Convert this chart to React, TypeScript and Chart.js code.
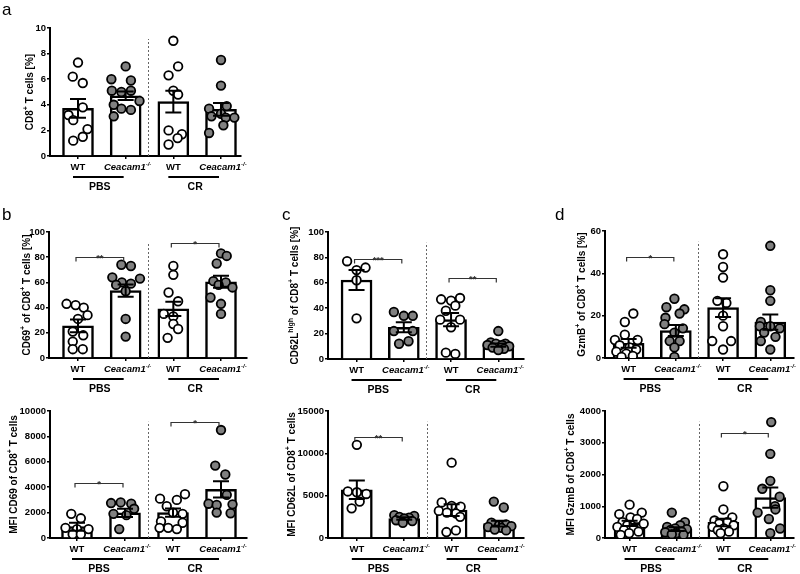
import React, { useEffect, useRef } from 'react';
import { Chart, registerables } from 'chart.js';
Chart.register(...registerables);

const FONT = '"Liberation Sans", Arial, Helvetica, sans-serif';
const GRAY = '#808080';

// ---------- DATA ----------
const groupNames = ['WT', 'Ceacam1', 'WT', 'Ceacam1'];
const treatments = ['PBS', 'CR'];

// panel a: CD8+ T cells [%]
const aMean = [3.72, 4.7, 4.25, 3.65];
const aSem = [0.73, 0.33, 0.85, 0.5];
const aPts = [
  [7.3, 6.2, 5.7, 3.8, 3.2, 2.8, 2.1, 1.5, 1.2],
  [7.0, 6.0, 5.9, 5.1, 5.0, 5.1, 4.3, 4.0, 3.7, 3.6, 3.1],
  [9.0, 7.0, 6.3, 5.1, 4.8, 2.0, 1.7, 1.4, 0.9],
  [7.5, 5.5, 3.9, 3.7, 3.3, 3.1, 3.0, 3.0, 2.4, 1.8],
];
const aJit = [
  [0, -0.11, 0.1, 0.1, -0.2, -0.1, 0.2, 0.1, -0.1],
  [0, -0.3, 0.11, -0.29, -0.09, 0.11, 0.29, -0.25, -0.09, 0.11, -0.25],
  [0, 0.1, -0.1, 0, 0.1, -0.1, 0.18, 0.09, -0.1],
  [0, 0, 0.12, -0.25, 0, -0.2, 0.1, 0.28, 0.05, -0.25],
];
const aSig: [number, number, number, string][] = [];

// panel b top: CD69+ of CD8+ T cells [%]
const bTopMean = [25.5, 53.5, 39, 60.5];
const bTopSem = [5, 4.8, 5.6, 4.8];
const bTopPts = [
  [43, 42, 40, 34, 31, 21, 18, 13, 7, 7],
  [74, 73, 64, 63, 60, 59, 58, 53, 31, 17],
  [73, 66, 52, 45, 35, 33, 27, 23, 16],
  [83, 81, 75, 61, 60, 58, 56, 48, 43, 35],
];
const bTopJit = [
  [-0.24, -0.05, 0.12, 0.2, 0, -0.11, 0.11, -0.11, -0.11, 0.1],
  [-0.09, 0.11, -0.28, 0.3, -0.08, 0.11, -0.2, 0, 0, 0],
  [0, 0, -0.1, 0.1, -0.2, 0, 0, 0.1, -0.12],
  [0, 0.12, -0.09, -0.16, 0.1, -0.05, 0.24, -0.22, 0, 0],
];
const bTopSig: [number, number, number, string][] = [[1, 2, 80, '**'], [3, 4, 91, '*']];

// panel b bottom: MFI CD69 of CD8+ T cells
const bBotMean = [890, 1980, 2000, 3830];
const bBotSem = [310, 330, 330, 640];
const bBotPts = [
  [1900, 1550, 800, 700, 700, 300, 300],
  [2750, 2800, 2700, 2300, 1900, 1800, 700],
  [3450, 3100, 3000, 2500, 2000, 1900, 1300, 1200, 800, 800, 700],
  [8500, 5700, 5000, 3400, 2700, 2650, 2600, 2000, 1950],
];
const bBotJit = [
  [-0.12, 0.08, -0.24, 0, 0.24, -0.09, 0.08],
  [-0.29, -0.09, 0.13, 0.19, -0.24, 0.03, -0.12],
  [0.25, -0.27, 0.08, -0.13, 0, 0.2, -0.25, 0.2, -0.28, -0.1, 0.08],
  [0, -0.12, 0.09, 0.12, -0.26, 0.24, -0.09, -0.09, 0.2],
];
const bBotSig: [number, number, number, string][] = [[1, 2, 4350, '*'], [3, 4, 9150, '*']];

// panel c top: CD62L high of CD8+ T cells [%]
const cTopMean = [62.2, 25, 31, 11];
const cTopSem = [7.9, 4, 5.2, 1.3];
const cTopPts = [
  [77, 72, 70, 62, 32],
  [37, 34, 34, 22, 22, 14, 12],
  [48, 47, 46, 42, 38, 31, 31, 25, 5, 4],
  [22, 13, 12, 12, 11, 11, 10, 9, 8, 7],
];
const cTopJit = [
  [-0.2, 0.19, 0, 0, 0],
  [-0.21, 0, 0.19, -0.21, 0.19, 0.1, -0.1],
  [0.19, -0.21, 0, 0.09, -0.11, -0.23, 0.19, 0, -0.11, 0.09],
  [0, -0.16, 0.15, -0.05, 0.08, -0.23, 0.23, -0.12, 0.12, 0],
];
const cTopSig: [number, number, number, string][] = [[1, 2, 79, '***'], [3, 4, 64, '**']];

// panel c bottom: MFI CD62L of CD8+ T cells
const cBotMean = [5700, 2300, 3300, 1700];
const cBotSem = [1100, 150, 700, 350];
const cBotPts = [
  [11000, 5500, 5400, 5200, 4300, 3500],
  [2700, 2600, 2500, 2400, 2300, 2100, 2000, 1800],
  [8900, 4200, 3800, 3700, 3200, 3000, 2900, 2500, 900, 700],
  [4300, 3600, 1800, 1600, 1500, 1400, 1300, 1200, 1000, 900],
];
const cBotJit = [
  [0, -0.19, 0, 0.2, 0.06, -0.11],
  [-0.21, 0.21, -0.1, 0.1, 0, -0.17, 0.17, -0.03],
  [0, -0.21, 0, 0.19, -0.27, -0.1, 0.09, 0.18, 0.09, -0.11],
  [-0.11, 0.1, -0.16, 0.15, 0, 0.26, -0.23, 0.05, -0.09, 0.15],
];
const cBotSig: [number, number, number, string][] = [[1, 2, 11900, '**']];

// panel d top: GzmB+ of CD8+ T cells [%]
const dTopMean = [6.9, 13, 23.8, 17];
const dTopSem = [2.1, 2.6, 4.4, 3.6];
const dTopPts = [
  [21, 17, 11, 8.5, 8.5, 6, 5, 4, 3, 2, 1, 0.5],
  [28, 24, 23, 21, 19, 16, 14, 12, 8, 8, 5, 0.5],
  [49, 43, 38, 27, 26, 20, 15, 8, 8, 4],
  [53, 32, 27, 17, 15, 15, 14, 12, 10, 8, 4],
];
const dTopJit = [
  [0.1, -0.08, -0.08, -0.29, 0.19, -0.19, 0.02, 0.16, -0.26, -0.05, 0.09, -0.15],
  [-0.03, -0.2, 0.18, 0.08, -0.22, -0.24, 0.15, -0.03, -0.13, 0.08, -0.03, -0.03],
  [0, 0, 0, -0.12, 0.07, 0, 0, -0.23, 0.17, 0],
  [0, 0, 0, -0.2, -0.22, 0, 0.2, -0.13, 0.11, -0.2, 0],
];
const dTopSig: [number, number, number, string][] = [[1, 2, 47.6, '*']];

// panel d bottom: MFI GzmB of CD8+ T cells
const dBotMean = [460, 280, 490, 1270];
const dBotSem = [80, 60, 120, 320];
const dBotPts = [
  [1050, 800, 750, 650, 600, 500, 450, 400, 350, 300, 250, 200, 150, 100],
  [800, 500, 400, 350, 300, 280, 250, 200, 180, 150, 120, 100],
  [1630, 900, 650, 550, 500, 450, 400, 350, 300, 250, 200, 150],
  [3650, 2650, 1800, 1550, 1300, 1000, 900, 800, 600, 300, 150],
];
const dBotJit = [
  [0, 0.26, -0.22, 0.02, 0.16, -0.15, 0.3, -0.05, -0.26, 0.09, -0.12, 0.19, -0.01, -0.19],
  [-0.1, 0.18, 0.08, -0.2, -0.03, 0.22, -0.13, 0.11, -0.24, 0, -0.1, 0.15],
  [0, 0, 0.19, -0.19, 0.08, -0.09, 0.22, -0.23, 0.01, -0.12, 0.12, -0.06],
  [0.02, 0, 0, -0.17, 0.2, 0.1, 0.11, -0.27, -0.03, 0.21, 0],
];
const dBotSig: [number, number, number, string][] = [[3, 4, 3320, '*']];

// ---------- RICH TEXT ----------
type Seg = { t: string; sup?: boolean; it?: boolean };
const segFont = (s: Seg, size: number) =>
  `${s.it ? 'italic ' : ''}bold ${s.sup ? Math.round(size * 0.68) : size}px ${FONT}`;
function richWidth(ctx: CanvasRenderingContext2D, segs: Seg[], size: number) {
  let w = 0;
  for (const s of segs) { ctx.font = segFont(s, size); w += ctx.measureText(s.t).width; }
  return w;
}
function drawRich(ctx: CanvasRenderingContext2D, segs: Seg[], cx: number, cy: number, size: number, rotate = false) {
  ctx.save();
  ctx.translate(cx, cy);
  if (rotate) ctx.rotate(-Math.PI / 2);
  ctx.fillStyle = '#000';
  ctx.textAlign = 'left';
  ctx.textBaseline = 'alphabetic';
  let x = -richWidth(ctx, segs, size) / 2;
  const base = size * 0.36;
  for (const s of segs) {
    ctx.font = segFont(s, size);
    ctx.fillText(s.t, x, s.sup ? base - size * 0.42 : base);
    x += ctx.measureText(s.t).width;
  }
  ctx.restore();
}

const ceacamLabel: Seg[] = [{ t: 'Ceacam1', it: true }, { t: '-/-', it: true, sup: true }];

type PanelCfg = {
  letter: string; letterPos: [number, number];
  box: [number, number, number, number]; yw: number; padTop: number; xh: number;
  c1: number; c4: number; xEnd: number; yMax: number; step: number;
  title: Seg[]; titleOff: number;
  mean: number[]; sem: number[]; pts: number[][]; jit: number[][];
  sig: [number, number, number, string][];
};

const panels: PanelCfg[] = [
  {
    letter: 'a', letterPos: [2, 1], box: [0, 0, 250, 195], yw: 50, padTop: 28, xh: 39,
    c1: 78, c4: 221, xEnd: 241, yMax: 10, step: 2,
    title: [{ t: 'CD8' }, { t: '+', sup: true }, { t: ' T cells [%]' }], titleOff: -21,
    mean: aMean, sem: aSem, pts: aPts, jit: aJit, sig: aSig,
  },
  {
    letter: 'b', letterPos: [2, 206], box: [0, 200, 255, 196], yw: 49, padTop: 32, xh: 38,
    c1: 78, c4: 221, xEnd: 247, yMax: 100, step: 20,
    title: [{ t: 'CD69' }, { t: '+', sup: true }, { t: ' of CD8' }, { t: '+', sup: true }, { t: ' T cells [%]' }], titleOff: -23,
    mean: bTopMean, sem: bTopSem, pts: bTopPts, jit: bTopJit, sig: bTopSig,
  },
  {
    letter: '', letterPos: [0, 0], box: [0, 398, 255, 176], yw: 50, padTop: 13, xh: 36,
    c1: 77, c4: 221, xEnd: 247, yMax: 10000, step: 2000,
    title: [{ t: 'MFI CD69 of CD8' }, { t: '+', sup: true }, { t: ' T cells' }], titleOff: -37,
    mean: bBotMean, sem: bBotSem, pts: bBotPts, jit: bBotJit, sig: bBotSig,
  },
  {
    letter: 'c', letterPos: [282, 206], box: [258, 200, 272, 196], yw: 70, padTop: 32, xh: 37,
    c1: 357, c4: 501, xEnd: 527, yMax: 100, step: 20,
    title: [{ t: 'CD62L' }, { t: 'high', sup: true }, { t: ' of CD8' }, { t: '+', sup: true }, { t: ' T cells [%]' }], titleOff: -34,
    mean: cTopMean, sem: cTopSem, pts: cTopPts, jit: cTopJit, sig: cTopSig,
  },
  {
    letter: '', letterPos: [0, 0], box: [258, 398, 272, 176], yw: 70, padTop: 13, xh: 36,
    c1: 357, c4: 500, xEnd: 525, yMax: 15000, step: 5000,
    title: [{ t: 'MFI CD62L of CD8' }, { t: '+', sup: true }, { t: ' T cells' }], titleOff: -37,
    mean: cBotMean, sem: cBotSem, pts: cBotPts, jit: cBotJit, sig: cBotSig,
  },
  {
    letter: 'd', letterPos: [555, 206], box: [535, 200, 265, 196], yw: 70, padTop: 31, xh: 38,
    c1: 629, c4: 773, xEnd: 797, yMax: 60, step: 20,
    title: [{ t: 'GzmB' }, { t: '+', sup: true }, { t: ' of CD8' }, { t: '+', sup: true }, { t: ' T cells [%]' }], titleOff: -24,
    mean: dTopMean, sem: dTopSem, pts: dTopPts, jit: dTopJit, sig: dTopSig,
  },
  {
    letter: '', letterPos: [0, 0], box: [535, 398, 265, 176], yw: 70, padTop: 13, xh: 36,
    c1: 630, c4: 773, xEnd: 797, yMax: 4000, step: 1000,
    title: [{ t: 'MFI GzmB of CD8' }, { t: '+', sup: true }, { t: ' T cells' }], titleOff: -35,
    mean: dBotMean, sem: dBotSem, pts: dBotPts, jit: dBotJit, sig: dBotSig,
  },
];

function makeOverlay(p: PanelCfg) {
  return {
    id: 'overlay',
    beforeDatasetsDraw(chart: any) {
      const { ctx, scales: { x, y } } = chart;
      ctx.save();
      ctx.strokeStyle = '#666';
      ctx.lineWidth = 1;
      ctx.setLineDash([2, 2]);
      const sx = Math.round(x.getPixelForValue(2.47)) + 0.5;
      ctx.beginPath();
      ctx.moveTo(sx, y.getPixelForValue(0));
      ctx.lineTo(sx, y.getPixelForValue(p.yMax * 0.915));
      ctx.stroke();
      ctx.restore();
    },
    afterDatasetsDraw(chart: any) {
      const { ctx, scales: { x, y } } = chart;
      ctx.save();
      ctx.strokeStyle = '#000';
      ctx.lineWidth = 2;
      p.mean.forEach((m, i) => {
        const cx = x.getPixelForValue(i + 1);
        const t = y.getPixelForValue(m + p.sem[i]);
        const b = y.getPixelForValue(Math.max(0, m - p.sem[i]));
        ctx.beginPath();
        ctx.moveTo(cx, t); ctx.lineTo(cx, b);
        ctx.moveTo(cx - 8, t); ctx.lineTo(cx + 8, t);
        ctx.moveTo(cx - 8, b); ctx.lineTo(cx + 8, b);
        ctx.stroke();
      });
      ctx.lineWidth = 1.2;
      ctx.strokeStyle = '#333';
      p.sig.forEach(([i1, i2, v, label]) => {
        const x1 = x.getPixelForValue(i1) - 2;
        const x2 = x.getPixelForValue(i2) - 2;
        const yy = Math.round(y.getPixelForValue(v)) + 0.5;
        ctx.beginPath();
        ctx.moveTo(x1, yy + 4); ctx.lineTo(x1, yy); ctx.lineTo(x2, yy); ctx.lineTo(x2, yy + 4);
        ctx.stroke();
        ctx.fillStyle = '#333';
        ctx.font = `bold 9.5px ${FONT}`;
        ctx.textAlign = 'center';
        ctx.textBaseline = 'alphabetic';
        ctx.fillText(label, (x1 + x2) / 2, yy + 3);
      });
      ctx.restore();
    },
    afterDraw(chart: any) {
      const { ctx, chartArea, scales: { x } } = chart;
      const bottom = chartArea.bottom;
      for (let i = 0; i < 4; i++) {
        const cx = x.getPixelForValue(i + 1);
        const segs: Seg[] = groupNames[i] === 'WT' ? [{ t: 'WT' }] : ceacamLabel;
        drawRich(ctx, segs, cx + (i % 2 === 1 ? 2 : 0), bottom + 11, 9.5);
      }
      ctx.save();
      ctx.strokeStyle = '#000';
      ctx.lineWidth = 2;
      treatments.forEach((t, g) => {
        const xa = x.getPixelForValue(g * 2 + 1);
        const xb = x.getPixelForValue(g * 2 + 2);
        ctx.beginPath();
        ctx.moveTo(xa - 5, bottom + 21);
        ctx.lineTo(xb - 2, bottom + 21);
        ctx.stroke();
        drawRich(ctx, [{ t }], (xa + xb) / 2 - 2, bottom + 30, 10.5);
      });
      ctx.restore();
      drawRich(ctx, p.title, chartArea.left + p.titleOff, (chartArea.top + chartArea.bottom) / 2, 10, true);
    },
  };
}

function Panel({ p }: { p: PanelCfg }) {
  const ref = useRef<HTMLCanvasElement>(null);
  useEffect(() => {
    const plotLeft = p.box[0] + p.yw;
    const sp = (p.c4 - p.c1) / 3;
    const xMin = 1 - (p.c1 - plotLeft) / sp;
    const xMax = 4 + (p.xEnd - p.c4) / sp;
    const padRight = p.box[0] + p.box[2] - p.xEnd;
    const wt: { x: number; y: number }[] = [];
    const ko: { x: number; y: number }[] = [];
    p.pts.forEach((arr, g) => {
      arr.forEach((v, k) => {
        const pt = { x: g + 1 + p.jit[g][k], y: v };
        (g % 2 === 0 ? wt : ko).push(pt);
      });
    });
    const chart = new Chart(ref.current as HTMLCanvasElement, {
      type: 'bar',
      data: {
        datasets: [
          {
            type: 'scatter', data: wt, backgroundColor: '#fff', borderColor: '#000',
            borderWidth: 1.8, pointRadius: 4.3, order: 0,
          } as any,
          {
            type: 'scatter', data: ko, backgroundColor: GRAY, borderColor: '#000',
            borderWidth: 1.8, pointRadius: 4.3, order: 0,
          } as any,
          {
            type: 'bar',
            data: p.mean.map((m, i) => ({ x: i + 1, y: m })),
            backgroundColor: '#fff', borderColor: '#000', borderWidth: 2.5,
            barThickness: 31, order: 1,
          } as any,
        ],
      },
      options: {
        responsive: false,
        animation: false,
        events: [],
        layout: { padding: { top: p.padTop, right: padRight, left: 0, bottom: 0 } },
        plugins: { legend: { display: false }, tooltip: { enabled: false } },
        scales: {
          x: {
            type: 'linear', min: xMin, max: xMax, offset: false,
            grid: { display: true, drawOnChartArea: false, drawTicks: true, tickLength: 3, color: '#000', lineWidth: 1.5, offset: false },
            border: { display: true, color: '#000', width: 2 },
            ticks: { display: false },
            afterBuildTicks: (s: any) => { s.ticks = [1, 2, 3, 4].map((v) => ({ value: v })); },
            afterFit: (s: any) => { s.height = p.xh; },
          },
          y: {
            type: 'linear', min: 0, max: p.yMax,
            ticks: {
              stepSize: p.step, color: '#000', padding: 1,
              font: { family: FONT, size: 9.5, weight: 'bold' },
              callback: (v: any) => String(v),
            },
            grid: { drawOnChartArea: false, tickLength: 3, color: '#000', lineWidth: 1.5 },
            border: { display: true, color: '#000', width: 2 },
            afterFit: (s: any) => { s.width = p.yw; },
          },
        },
      } as any,
      plugins: [makeOverlay(p)],
    });
    return () => chart.destroy();
  }, []);
  return (
    <canvas
      ref={ref}
      width={p.box[2]}
      height={p.box[3]}
      style={{ position: 'absolute', left: p.box[0], top: p.box[1], width: p.box[2], height: p.box[3], display: 'block' }}
    />
  );
}

export default function App() {
  return (
    <div style={{ position: 'absolute', left: 0, top: 0, width: 800, height: 574, background: '#fff', overflow: 'hidden' }}>
      {panels.map((p, i) => (
        <Panel key={i} p={p} />
      ))}
      {panels.filter((p) => p.letter).map((p) => (
        <div
          key={p.letter}
          style={{ position: 'absolute', left: p.letterPos[0], top: p.letterPos[1], fontFamily: FONT, fontSize: 17, lineHeight: 1, color: '#000' }}
        >
          {p.letter}
        </div>
      ))}
    </div>
  );
}
